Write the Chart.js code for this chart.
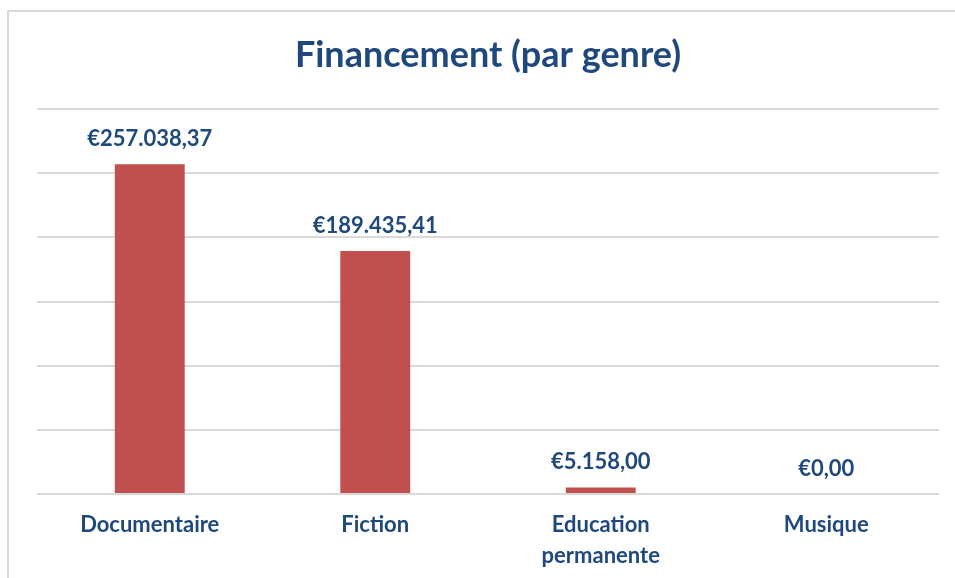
<!DOCTYPE html>
<html>
<head>
<meta charset="utf-8">
<script src="https://cdn.jsdelivr.net/npm/chart.js@4"></script>
<style>
  html, body { margin: 0; padding: 0; background: #fff; overflow: hidden; }
  #wrap { position: relative; width: 955px; height: 578px; }
  #frame { position: absolute; left: 7px; top: 10px; width: 1000px; height: 700px;
           border-left: 2px solid #d9d9d9; border-top: 2px solid #d9d9d9; box-sizing: border-box; }
  canvas { position: absolute; left: 0; top: 0; }
</style>
</head>
<body>
<div id="wrap">
  <div id="frame"></div>
  <canvas id="genreChart" width="955" height="578"></canvas>
</div>
<script>
const genres = ['Documentaire', 'Fiction', ['Education', 'permanente'], 'Musique'];
const amounts = [257038.37, 189435.41, 5158.00, 0];
const yMax = 300000;
const yStep = 50000;

const textBlue = '#1F497D';

function formatEuro(v) {
  const parts = v.toFixed(2).split('.');
  const intPart = parts[0].replace(/\B(?=(\d{3})+(?!\d))/g, '.');
  return '€' + intPart + ',' + parts[1];
}

const barLabels = {
  id: 'barLabels',
  afterDatasetsDraw(chart) {
    const ctx = chart.ctx;
    const meta = chart.getDatasetMeta(0);
    ctx.save();
    ctx.font = 'bold 22px Lato';
    ctx.fillStyle = textBlue;
    ctx.textAlign = 'center';
    ctx.textBaseline = 'middle';
    meta.data.forEach((bar, i) => {
      ctx.fillText(formatEuro(amounts[i]), bar.x, bar.y - 25);
    });
    ctx.restore();
  }
};

const ctx = document.getElementById('genreChart').getContext('2d');
const chart = new Chart(ctx, {
  type: 'bar',
  data: {
    labels: genres,
    datasets: [{
      label: 'Financement',
      data: amounts,
      backgroundColor: '#C0504D',
      borderWidth: 0,
      barPercentage: 0.31,
      categoryPercentage: 1
    }]
  },
  options: {
    responsive: false,
    animation: false,
    layout: { padding: { left: 37, right: 16, top: 0, bottom: 6 } },
    plugins: {
      legend: { display: false },
      tooltip: { enabled: false },
      title: {
        display: true,
        text: 'Financement (par genre)',
        color: textBlue,
        font: { family: 'Lato', size: 36, weight: 'bold', lineHeight: 1.2 },
        padding: { top: 34, bottom: 32 }
      }
    },
    scales: {
      x: {
        grid: { display: false },
        border: { display: false },
        afterFit(scale) { scale.height = 78; },
        ticks: {
          color: textBlue,
          padding: 7,
          maxRotation: 0,
          font: { family: 'Lato', size: 22, weight: 'bold', lineHeight: 1.41 }
        }
      },
      y: {
        min: 0,
        max: yMax,
        ticks: { display: false, stepSize: yStep },
        grid: { color: '#d9d9d9', lineWidth: 2, drawTicks: false },
        border: { display: false }
      }
    }
  },
  plugins: [barLabels]
});
</script>
</body>
</html>
